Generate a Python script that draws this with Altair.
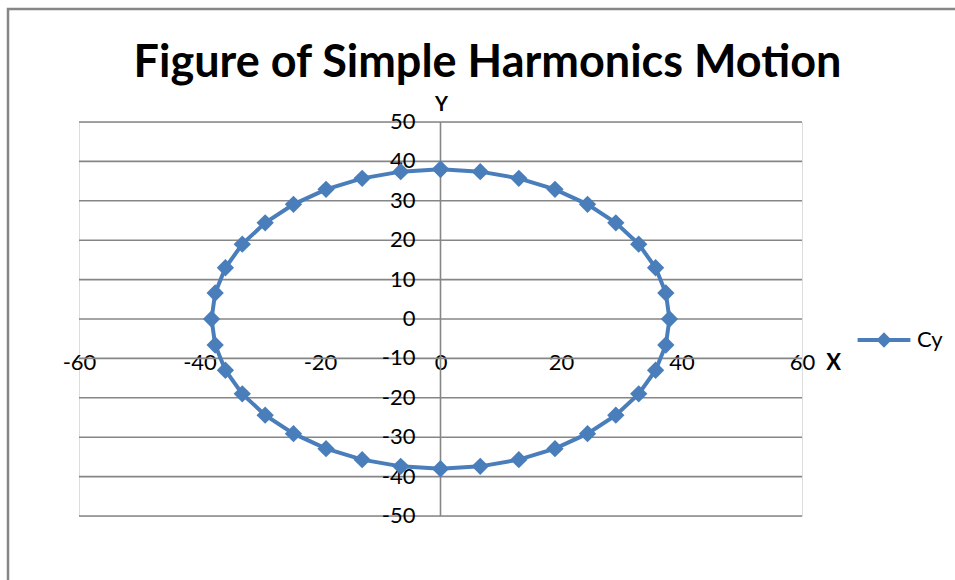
import altair as alt
import pandas as pd

# Displacement samples of the motion, one every 10 degrees, starting at the top
x_vals = [0, 6.6, 13.0, 19.0, 24.4, 29.1, 32.9, 35.7, 37.4, 38.0,
          37.4, 35.7, 32.9, 29.1, 24.4, 19.0, 13.0, 6.6, 0,
          -6.6, -13.0, -19.0, -24.4, -29.1, -32.9, -35.7, -37.4, -38.0,
          -37.4, -35.7, -32.9, -29.1, -24.4, -19.0, -13.0, -6.6, 0]
y_vals = [38.0, 37.4, 35.7, 32.9, 29.1, 24.4, 19.0, 13.0, 6.6, 0,
          -6.6, -13.0, -19.0, -24.4, -29.1, -32.9, -35.7, -37.4, -38.0,
          -37.4, -35.7, -32.9, -29.1, -24.4, -19.0, -13.0, -6.6, 0,
          6.6, 13.0, 19.0, 24.4, 29.1, 32.9, 35.7, 37.4, 38.0]
series_name = "Cy"

y_ticks = [50, 40, 30, 20, 10, 0, -10, -20, -30, -40, -50]
x_ticks = [-60, -40, -20, 0, 20, 40, 60]

BLUE = "#4a7ebb"
GRID = "#868686"
FONT = "Lato"

W, H = 723, 394

df = pd.DataFrame({"x": x_vals, "y": y_vals, "i": range(len(x_vals)),
                   "series": series_name})
grid_df = pd.DataFrame({"y": y_ticks, "x": -60, "x2": 60, "zero": 0,
                        "label": [str(v) for v in y_ticks]})
vaxis_df = pd.DataFrame({"x": [0], "y": [-50], "y2": [50]})

xs = alt.Scale(domain=[-60, 60], nice=False, zero=False)
ys = alt.Scale(domain=[-50, 50], nice=False, zero=False)

x_axis = alt.Axis(values=x_ticks, grid=False, domain=False, ticks=False,
                  offset=-158, labelBaseline="middle",
                  labelExpr="'' + datum.value",
                  labelPadding=4, labelFont=FONT, labelFontSize=22,
                  labelColor="black", labelFlush=False, labelOverlap=False,
                  title="X", titleFont=FONT, titleFontSize=22,
                  titleFontWeight="bold", titleColor="black",
                  titleX=754, titleY=4, titleBaseline="middle",
                  titleAlign="center")
# vertical axis keeps only its title; tick labels are drawn as text marks
y_axis = alt.Axis(values=y_ticks, grid=False, domain=False, ticks=False,
                  labels=False, offset=-(W // 2),
                  title="Y", titleFont=FONT, titleFontSize=20,
                  titleFontWeight="bold", titleColor="black", titleAngle=0,
                  titleX=1, titleY=-18, titleBaseline="middle",
                  titleAlign="center")

gridlines = alt.Chart(grid_df).mark_rule(color=GRID, strokeWidth=1.6).encode(
    x=alt.X("x:Q", scale=xs, axis=x_axis),
    x2="x2:Q",
    y=alt.Y("y:Q", scale=ys, axis=y_axis),
)

y_labels = alt.Chart(grid_df).mark_text(
    font=FONT, fontSize=22, color="black", align="right",
    baseline="middle", dx=-25
).encode(x=alt.X("zero:Q", scale=xs), y=alt.Y("y:Q", scale=ys),
         text="label:N")

vaxis = alt.Chart(vaxis_df).mark_rule(color=GRID, strokeWidth=1.6).encode(
    x=alt.X("x:Q", scale=xs), y=alt.Y("y:Q", scale=ys), y2="y2:Q"
)

line = alt.Chart(df).mark_line(color=BLUE, strokeWidth=4).encode(
    x=alt.X("x:Q", scale=xs), y=alt.Y("y:Q", scale=ys), order="i:Q"
)

points = alt.Chart(df).mark_point(shape="diamond", filled=True, size=300,
                                  opacity=1).encode(
    x=alt.X("x:Q", scale=xs),
    y=alt.Y("y:Q", scale=ys),
    color=alt.Color("series:N", scale=alt.Scale(range=[BLUE]),
                    legend=alt.Legend(
                        title=None, orient="none", legendX=794, legendY=207,
                        symbolType="M-3.3,0H3.3M0,-0.6L0.6,0L0,0.6L-0.6,0Z",
                        symbolSize=256, symbolStrokeWidth=4,
                        symbolStrokeColor=BLUE, symbolFillColor=BLUE,
                        labelFont=FONT, labelFontSize=22,
                        labelColor="black", labelOffset=22)),
)

# outer chart-area frame
frame = alt.Chart(pd.DataFrame({"a": [0]})).mark_rect(
    fill=None, stroke=GRID, strokeWidth=2.5
).encode(x=alt.value(-71), x2=alt.value(1000), y=alt.value(-113),
         y2=alt.value(800))

chart = alt.layer(gridlines, vaxis, y_labels, line, points, frame).properties(
    width=W, height=H,
    title=alt.TitleParams("Figure of Simple Harmonics Motion", font=FONT,
                          fontSize=45, fontWeight="bold", color="black",
                          anchor="middle", frame="group", dx=47, dy=86,
                          offset=8),
    autosize=alt.AutoSizeParams(type="none"),
    padding={"left": 79, "top": 122, "right": 153, "bottom": 64},
).configure_view(stroke=None).configure(background="white")

chart.save("out.html", embed_options={"renderer": "svg", "actions": False})
